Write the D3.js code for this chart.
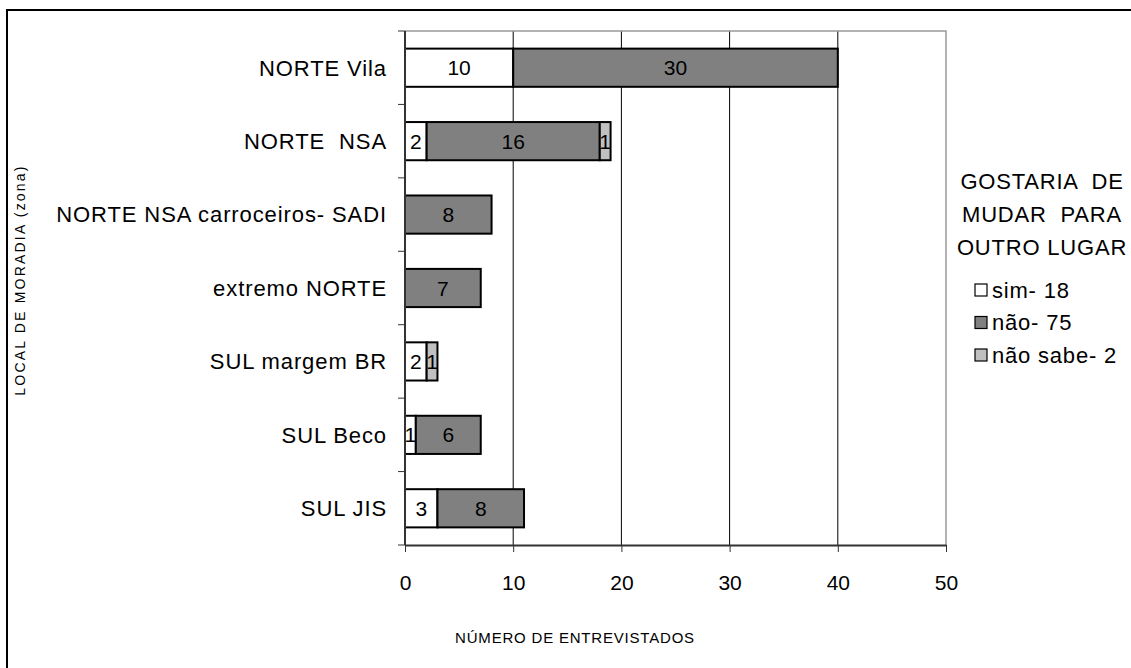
<!DOCTYPE html>
<html>
<head>
<meta charset="utf-8">
<script src="https://cdn.jsdelivr.net/npm/d3@7"></script>
<style>
  body { margin: 0; background: #fff; }
  svg { font-family: Arial, "Liberation Sans", sans-serif; }
</style>
</head>
<body>
<svg id="chart" width="1131" height="668"></svg>
<script>
// categories, top to bottom
const categories = ['NORTE Vila', 'NORTE  NSA', 'NORTE NSA carroceiros- SADI', 'extremo NORTE', 'SUL margem BR', 'SUL Beco', 'SUL JIS'];
const sim = [10, 2, 0, 0, 2, 1, 3];
const nao = [30, 16, 8, 7, 0, 6, 8];
const naoSabe = [0, 1, 0, 0, 1, 0, 0];
const seriesNames = ['sim- 18', 'não- 75', 'não sabe- 2'];
const seriesColors = ['#ffffff', '#808080', '#c0c0c0'];
const xTicks = [0, 10, 20, 30, 40, 50];
const legendTitle = ['GOSTARIA  DE', 'MUDAR  PARA', 'OUTRO LUGAR'];

const svg = d3.select('svg#chart');

// outer frame (only left and top visible in the picture)
svg.append('rect')
  .attr('x', 7).attr('y', 10)
  .attr('width', 1200).attr('height', 700)
  .attr('fill', 'none').attr('stroke', '#000').attr('stroke-width', 2);

const plot = { left: 405, right: 946, top: 31, bottom: 545 };

const x = d3.scaleLinear().domain([0, 50]).range([plot.left, plot.right]);
const y = d3.scaleBand().domain(categories).range([plot.top, plot.bottom]).paddingInner(0.48).paddingOuter(0.24);

// stacked data
const table = categories.map((c, i) => ({ cat: c, sim: sim[i], nao: nao[i], naoSabe: naoSabe[i] }));
const stack = d3.stack().keys(['sim', 'nao', 'naoSabe'])(table);

// gridlines
svg.append('g')
  .selectAll('line')
  .data(xTicks.slice(1, -1))
  .enter()
  .append('line')
  .attr('x1', d => x(d)).attr('x2', d => x(d))
  .attr('y1', plot.top).attr('y2', plot.bottom)
  .attr('stroke', '#000').attr('stroke-width', 1);

// plot frame (top/right gray)
svg.append('path')
  .attr('d', `M${plot.left},${plot.top}H${plot.right}V${plot.bottom}`)
  .attr('fill', 'none').attr('stroke', '#999').attr('stroke-width', 1.5);

// bars
const groups = svg.append('g')
  .selectAll('g')
  .data(stack)
  .enter()
  .append('g')
  .attr('fill', (d, i) => seriesColors[i]);

groups.selectAll('rect')
  .data(d => d.filter(p => p[1] - p[0] > 0))
  .enter()
  .append('rect')
  .attr('x', d => x(d[0]))
  .attr('y', d => y(d.data.cat))
  .attr('width', d => x(d[1]) - x(d[0]))
  .attr('height', y.bandwidth())
  .attr('stroke', '#000')
  .attr('stroke-width', 2);

groups.selectAll('text')
  .data(d => d.filter(p => p[1] - p[0] > 0))
  .enter()
  .append('text')
  .attr('x', d => (x(d[0]) + x(d[1])) / 2)
  .attr('y', d => y(d.data.cat) + y.bandwidth() / 2)
  .attr('dy', '0.36em')
  .attr('text-anchor', 'middle')
  .attr('fill', '#000')
  .attr('font-size', 21)
  .text(d => d[1] - d[0]);

// x axis
const xAxis = svg.append('g')
  .attr('transform', `translate(0,${plot.bottom})`)
  .call(d3.axisBottom(x).tickValues(xTicks).tickSize(7).tickSizeOuter(0));
xAxis.select('.domain').attr('stroke', '#333').attr('stroke-width', 2);
xAxis.selectAll('.tick line').attr('stroke', '#333');
xAxis.selectAll('.tick text')
  .attr('font-size', 21).attr('font-family', 'Arial, "Liberation Sans", sans-serif')
  .attr('y', 30).attr('fill', '#000');

// y axis: ticks at category boundaries
const boundaries = d3.range(categories.length + 1).map(i => plot.top + i * (plot.bottom - plot.top) / categories.length);
svg.append('line')
  .attr('x1', plot.left).attr('x2', plot.left)
  .attr('y1', plot.top).attr('y2', plot.bottom)
  .attr('stroke', '#333').attr('stroke-width', 2);
svg.append('g')
  .selectAll('line')
  .data(boundaries)
  .enter()
  .append('line')
  .attr('x1', plot.left - 7).attr('x2', plot.left)
  .attr('y1', d => d).attr('y2', d => d)
  .attr('stroke', '#333').attr('stroke-width', 1);

svg.append('g')
  .selectAll('text')
  .data(categories)
  .enter()
  .append('text')
  .attr('x', 387)
  .attr('y', d => y(d) + y.bandwidth() / 2)
  .attr('dy', '0.36em')
  .attr('text-anchor', 'end')
  .attr('font-size', 22)
  .attr('letter-spacing', 0.9)
  .style('white-space', 'pre')
  .text(d => d);

// axis titles
svg.append('text')
  .attr('x', 575).attr('y', 643)
  .attr('text-anchor', 'middle')
  .attr('font-size', 15)
  .attr('letter-spacing', 0.8)
  .text('NÚMERO DE ENTREVISTADOS');

svg.append('text')
  .attr('transform', 'translate(25,280) rotate(-90)')
  .attr('text-anchor', 'middle')
  .attr('font-size', 14)
  .attr('letter-spacing', 2.2)
  .text('LOCAL DE MORADIA (zona)');

// legend
const legend = svg.append('g');
legend.selectAll('text.title')
  .data(legendTitle)
  .enter()
  .append('text')
  .attr('class', 'title')
  .attr('x', 1042)
  .attr('y', (d, i) => 181 + i * 33)
  .attr('dy', '0.36em')
  .attr('text-anchor', 'middle')
  .attr('font-size', 22)
  .attr('letter-spacing', 0.8)
  .style('white-space', 'pre')
  .text(d => d);

const items = legend.selectAll('g.item')
  .data(seriesNames)
  .enter()
  .append('g')
  .attr('class', 'item')
  .attr('transform', (d, i) => `translate(975,${290 + i * 32.5})`);
items.append('rect')
  .attr('x', 0).attr('y', -6)
  .attr('width', 12).attr('height', 12)
  .attr('fill', (d, i) => seriesColors[i])
  .attr('stroke', '#000').attr('stroke-width', 1.2);
items.append('text')
  .attr('x', 17).attr('y', 0)
  .attr('dy', '0.36em')
  .attr('font-size', 22)
  .attr('letter-spacing', 0.8)
  .text(d => d);
</script>
</body>
</html>
